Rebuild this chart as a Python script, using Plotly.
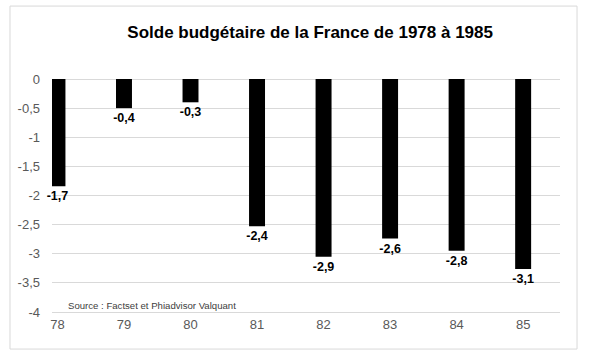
import plotly.graph_objects as go

years = [78, 79, 80, 81, 82, 83, 84, 85]
year_labels = ["78", "79", "80", "81", "82", "83", "84", "85"]
# bar lengths as drawn in the picture
bar_values = [-1.84, -0.50, -0.40, -2.53, -3.05, -2.74, -2.95, -3.26]
# data labels shown on the chart
value_labels = ["-1,7", "-0,4", "-0,3", "-2,4", "-2,9", "-2,6", "-2,8", "-3,1"]
y_ticks = [0, -0.5, -1, -1.5, -2, -2.5, -3, -3.5, -4]
y_tick_labels = ["0", "-0,5", "-1", "-1,5", "-2", "-2,5", "-3", "-3,5", "-4"]

FONT = "Liberation Sans, Arial, sans-serif"

fig = go.Figure()
fig.add_trace(go.Bar(
    x=years, y=bar_values, width=0.24,
    marker=dict(color="#000000", line=dict(width=0)),
    text=value_labels, textposition="outside", cliponaxis=False,
    constraintext="none",
    textfont=dict(family=FONT, size=12.5, color="#000000", weight="bold"),
    showlegend=False, hoverinfo="skip",
))

fig.update_layout(
    width=593, height=360,
    margin=dict(l=52, r=33, t=79, b=48),
    paper_bgcolor="white", plot_bgcolor="white",
    font=dict(family=FONT, color="#595959"),
    title=dict(text="<b>Solde budgétaire de la France de 1978 à 1985</b>",
               x=0.523, xanchor="center", y=0.91, yanchor="middle",
               font=dict(family=FONT, size=17, color="#000000")),
    xaxis=dict(range=[77.918, 85.554], tickvals=years, ticktext=year_labels,
               showgrid=False, zeroline=False, showline=True,
               linecolor="#d9d9d9", linewidth=1, ticks="",
               tickfont=dict(size=13, color="#595959"), fixedrange=True),
    yaxis=dict(range=[-4, 0], tickvals=y_ticks, ticktext=y_tick_labels,
               showgrid=True, gridcolor="#d9d9d9", gridwidth=1,
               zeroline=True, zerolinecolor="#d9d9d9", zerolinewidth=1,
               showline=False, ticks="", ticklabelstandoff=11,
               tickfont=dict(size=13, color="#595959"), fixedrange=True),
    shapes=[dict(type="rect", xref="paper", yref="paper",
                 x0=-0.0827, x1=1.0335, y0=-0.159, y1=1.313,
                 line=dict(color="#d9d9d9", width=1), fillcolor="rgba(0,0,0,0)",
                 layer="below")],
    annotations=[dict(text="Source : Factset et Phiadvisor Valquant",
                      xref="paper", yref="paper", x=0.027, y=0.03,
                      xanchor="left", yanchor="middle", showarrow=False,
                      font=dict(family=FONT, size=9.6, color="#404040"))],
)

fig.write_html("out.html", config={"displayModeBar": False},
               post_script="document.body.style.margin='0';document.body.style.overflow='hidden';")
